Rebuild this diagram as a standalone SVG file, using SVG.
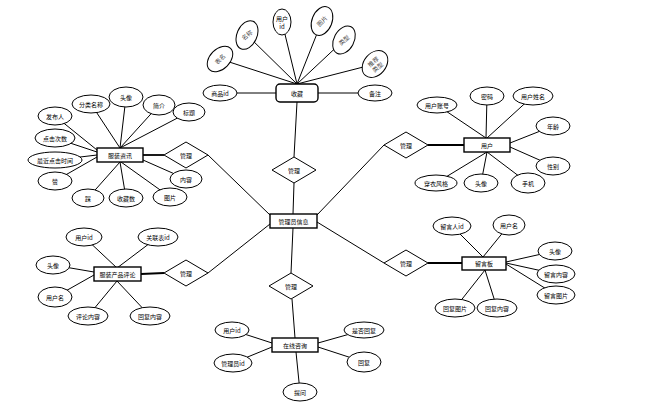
<svg xmlns="http://www.w3.org/2000/svg" width="661" height="409" viewBox="0 0 661 409">
<style>
.e{fill:#fff;stroke:#000;stroke-width:1}
.r{fill:#fff;stroke:#000;stroke-width:1.4}
.d{fill:#fff;stroke:#000;stroke-width:1}
.t{font-family:"Noto Sans CJK SC","Liberation Sans",sans-serif;font-size:6px;text-anchor:middle;dominant-baseline:central;fill:#000}
.g{fill:#444}
#connectors line{stroke:#000;stroke-width:1}
#connectors line.k{stroke-width:1.8}
</style>
<rect width="661" height="409" fill="#fff"/>
<g id="connectors">
<line x1="297" y1="84" x2="220" y2="59"/>
<line x1="297" y1="84" x2="247" y2="35"/>
<line x1="297" y1="84" x2="282" y2="22"/>
<line x1="297" y1="84" x2="322" y2="21"/>
<line x1="297" y1="84" x2="344" y2="40"/>
<line x1="297" y1="84" x2="375" y2="64"/>
<line x1="237" y1="93" x2="276" y2="93"/>
<line x1="318" y1="93" x2="358" y2="93"/>
<line x1="297" y1="102" x2="294" y2="157"/>
<line x1="294" y1="183" x2="293" y2="214"/>
<line x1="293" y1="228" x2="291" y2="273"/>
<line x1="292" y1="299" x2="295" y2="338"/>
<line x1="270" y1="215" x2="208" y2="155"/>
<line x1="270" y1="224" x2="208" y2="273"/>
<line x1="317" y1="215" x2="384" y2="145"/>
<line x1="317" y1="222" x2="384" y2="263"/>
<line class="k" x1="143" y1="155" x2="164" y2="155"/>
<line class="k" x1="428" y1="145" x2="464" y2="145"/>
<line class="k" x1="428" y1="263" x2="462" y2="263"/>
<line class="k" x1="141" y1="274" x2="164" y2="273"/>
<line x1="55" y1="116" x2="97" y2="150"/>
<line x1="55" y1="138" x2="97" y2="152"/>
<line x1="55" y1="160" x2="97" y2="155"/>
<line x1="55" y1="181" x2="97" y2="157"/>
<line x1="88" y1="198" x2="120" y2="162"/>
<line x1="126" y1="198" x2="120" y2="162"/>
<line x1="170" y1="197" x2="121" y2="162"/>
<line x1="186" y1="179" x2="143" y2="160"/>
<line x1="91" y1="104" x2="120" y2="148"/>
<line x1="126" y1="97" x2="120" y2="148"/>
<line x1="159" y1="105" x2="120" y2="148"/>
<line x1="189" y1="112" x2="120" y2="148"/>
<line x1="437" y1="105" x2="486" y2="138"/>
<line x1="487" y1="96" x2="486" y2="138"/>
<line x1="533" y1="96" x2="487" y2="138"/>
<line x1="553" y1="126" x2="510" y2="143"/>
<line x1="553" y1="166" x2="510" y2="147"/>
<line x1="528" y1="183" x2="487" y2="152"/>
<line x1="481" y1="183" x2="487" y2="152"/>
<line x1="436" y1="183" x2="487" y2="152"/>
<line x1="452" y1="226" x2="483" y2="257"/>
<line x1="509" y1="225" x2="483" y2="257"/>
<line x1="555" y1="251" x2="506" y2="262"/>
<line x1="556" y1="274" x2="506" y2="263"/>
<line x1="556" y1="295" x2="506" y2="264"/>
<line x1="455" y1="308" x2="485" y2="270"/>
<line x1="497" y1="308" x2="485" y2="270"/>
<line x1="84" y1="237" x2="117" y2="268"/>
<line x1="158" y1="237" x2="117" y2="268"/>
<line x1="53" y1="265" x2="94" y2="272"/>
<line x1="55" y1="297" x2="94" y2="275"/>
<line x1="88" y1="316" x2="117" y2="281"/>
<line x1="150" y1="316" x2="117" y2="281"/>
<line x1="232" y1="330" x2="272" y2="343"/>
<line x1="233" y1="363" x2="272" y2="347"/>
<line x1="364" y1="330" x2="318" y2="343"/>
<line x1="364" y1="362" x2="318" y2="347"/>
<line x1="300" y1="392" x2="296" y2="352"/>
</g>

<!-- 收藏 -->
<g id="shoucang"><rect class="r" x="276" y="84" width="42" height="18" rx="4"/><text class="t" x="297" y="93">收藏</text></g>
<g id="sc-shangpinid"><ellipse class="e" cx="220" cy="93" rx="17" ry="8"/><text class="t" x="220" y="93">商品id</text></g>
<g id="sc-beizhu"><ellipse class="e" cx="375" cy="93" rx="17" ry="8"/><text class="t" x="375" y="93">备注</text></g>
<g id="sc-biaoming" transform="translate(220,59)"><ellipse class="e" rx="15" ry="10" transform="rotate(-45)"/><text class="t g" transform="rotate(-45)">表名</text></g>
<g id="sc-mingcheng" transform="translate(247,35)"><ellipse class="e" rx="15" ry="10" transform="rotate(-66)"/><text class="t g" transform="rotate(-40)">名称</text></g>
<g id="sc-yonghuid"><ellipse class="e" cx="282" cy="22" rx="9" ry="13"/><text class="t" x="282" y="18">用户</text><text class="t" x="282" y="26">id</text></g>
<g id="sc-tupian" transform="translate(322,21)"><ellipse class="e" rx="15" ry="10" transform="rotate(-68)"/><text class="t g" transform="rotate(-45)">图片</text></g>
<g id="sc-leixing" transform="translate(344,40)"><ellipse class="e" rx="15" ry="10" transform="rotate(-62)"/><text class="t g" transform="rotate(-40)">类型</text></g>
<g id="sc-tuijian" transform="translate(375,64)"><ellipse class="e" rx="15" ry="11" transform="rotate(-50)"/><text class="t g" transform="rotate(-40)"><tspan x="0" y="-3.5">推荐</tspan><tspan x="0" y="3.5">类型</tspan></text></g>

<!-- diamonds -->
<g id="guanli-1"><polygon class="d" points="294,157 316,170 294,183 272,170"/><text class="t" x="294" y="170">管理</text></g>
<g id="guanli-2"><polygon class="d" points="291,273 313,286 291,299 269,286"/><text class="t" x="291" y="286">管理</text></g>
<g id="guanli-3"><polygon class="d" points="186,142 208,155 186,168 164,155"/><text class="t" x="186" y="155">管理</text></g>
<g id="guanli-4"><polygon class="d" points="406,132 428,145 406,158 384,145"/><text class="t" x="406" y="145">管理</text></g>
<g id="guanli-5"><polygon class="d" points="406,250 428,263 406,276 384,263"/><text class="t" x="406" y="263">管理</text></g>
<g id="guanli-6"><polygon class="d" points="186,260 208,273 186,286 164,273"/><text class="t" x="186" y="273">管理</text></g>

<!-- 管理员信息 -->
<g id="guanliyuan"><rect class="r" x="270" y="214" width="47" height="14"/><text class="t" x="293.5" y="221">管理员信息</text></g>

<!-- 服装资讯 -->
<g id="fuzhuangzixun"><rect class="r" x="97" y="148" width="46" height="14"/><text class="t" x="120" y="155">服装资讯</text></g>
<g id="zx-fabuRen"><ellipse class="e" cx="55" cy="116" rx="17" ry="9"/><text class="t" x="55" y="116">发布人</text></g>
<g id="zx-dianji"><ellipse class="e" cx="55" cy="138" rx="20" ry="9"/><text class="t" x="55" y="138">点击次数</text></g>
<g id="zx-zuijin"><ellipse class="e" cx="55" cy="160" rx="27" ry="8"/><text class="t" x="55" y="160">最近点击时间</text></g>
<g id="zx-zan"><ellipse class="e" cx="55" cy="181" rx="17" ry="9"/><text class="t" x="55" y="181">赞</text></g>
<g id="zx-cai"><ellipse class="e" cx="88" cy="198" rx="16" ry="9"/><text class="t" x="88" y="198">踩</text></g>
<g id="zx-shoucangshu"><ellipse class="e" cx="126" cy="198" rx="17" ry="9"/><text class="t" x="126" y="198">收藏数</text></g>
<g id="zx-tupian"><ellipse class="e" cx="170" cy="197" rx="17" ry="9"/><text class="t" x="170" y="197">图片</text></g>
<g id="zx-neirong"><ellipse class="e" cx="186" cy="179" rx="16" ry="9"/><text class="t" x="186" y="179">内容</text></g>
<g id="zx-fenlei"><ellipse class="e" cx="91" cy="104" rx="19" ry="9"/><text class="t" x="91" y="104">分类名称</text></g>
<g id="zx-touxiang"><ellipse class="e" cx="126" cy="97" rx="17" ry="10"/><text class="t" x="126" y="97">头像</text></g>
<g id="zx-jianjie"><ellipse class="e" cx="159" cy="105" rx="16" ry="10"/><text class="t" x="159" y="105">简介</text></g>
<g id="zx-biaoti"><ellipse class="e" cx="189" cy="112" rx="16" ry="9"/><text class="t" x="189" y="112">标题</text></g>

<!-- 用户 -->
<g id="yonghu"><rect class="r" x="464" y="138" width="46" height="14"/><text class="t" x="487" y="145">用户</text></g>
<g id="yh-zhanghao"><ellipse class="e" cx="437" cy="105" rx="20" ry="8"/><text class="t" x="437" y="105">用户账号</text></g>
<g id="yh-mima"><ellipse class="e" cx="487" cy="96" rx="17" ry="9"/><text class="t" x="487" y="96">密码</text></g>
<g id="yh-xingming"><ellipse class="e" cx="533" cy="96" rx="20" ry="9"/><text class="t" x="533" y="96">用户姓名</text></g>
<g id="yh-nianling"><ellipse class="e" cx="553" cy="126" rx="17" ry="9"/><text class="t" x="553" y="126">年龄</text></g>
<g id="yh-xingbie"><ellipse class="e" cx="553" cy="166" rx="17" ry="9"/><text class="t" x="553" y="166">性别</text></g>
<g id="yh-shouji"><ellipse class="e" cx="528" cy="183" rx="17" ry="10"/><text class="t" x="528" y="183">手机</text></g>
<g id="yh-touxiang"><ellipse class="e" cx="481" cy="183" rx="17" ry="9"/><text class="t" x="481" y="183">头像</text></g>
<g id="yh-chuanyi"><ellipse class="e" cx="436" cy="183" rx="21" ry="8"/><text class="t" x="436" y="183">穿衣风格</text></g>

<!-- 留言板 -->
<g id="liuyanban"><rect class="r" x="462" y="257" width="44" height="13"/><text class="t" x="484" y="263.5">留言板</text></g>
<g id="ly-liuyanrenid"><ellipse class="e" cx="452" cy="226" rx="19" ry="9"/><text class="t" x="452" y="226">留言人id</text></g>
<g id="ly-yonghuming"><ellipse class="e" cx="509" cy="225" rx="16" ry="10"/><text class="t" x="509" y="225">用户名</text></g>
<g id="ly-touxiang"><ellipse class="e" cx="555" cy="251" rx="17" ry="9"/><text class="t" x="555" y="251">头像</text></g>
<g id="ly-neirong"><ellipse class="e" cx="556" cy="274" rx="19" ry="9"/><text class="t" x="556" y="274">留言内容</text></g>
<g id="ly-tupian"><ellipse class="e" cx="556" cy="295" rx="19" ry="9"/><text class="t" x="556" y="295">留言图片</text></g>
<g id="ly-huifutupian"><ellipse class="e" cx="455" cy="308" rx="20" ry="9"/><text class="t" x="455" y="308">回复图片</text></g>
<g id="ly-huifuneirong"><ellipse class="e" cx="497" cy="308" rx="20" ry="9"/><text class="t" x="497" y="308">回复内容</text></g>

<!-- 服装产品评论 -->
<g id="pinglun"><rect class="r" x="94" y="267" width="47" height="14"/><text class="t" x="117.5" y="274">服装产品评论</text></g>
<g id="pl-yonghuid"><ellipse class="e" cx="84" cy="237" rx="18" ry="9"/><text class="t" x="84" y="237">用户id</text></g>
<g id="pl-guanlianbiaoid"><ellipse class="e" cx="158" cy="237" rx="20" ry="9"/><text class="t" x="158" y="237">关联表id</text></g>
<g id="pl-touxiang"><ellipse class="e" cx="53" cy="265" rx="17" ry="9"/><text class="t" x="53" y="265">头像</text></g>
<g id="pl-yonghuming"><ellipse class="e" cx="55" cy="297" rx="17" ry="10"/><text class="t" x="55" y="297">用户名</text></g>
<g id="pl-pinglunneirong"><ellipse class="e" cx="88" cy="316" rx="20" ry="9"/><text class="t" x="88" y="316">评论内容</text></g>
<g id="pl-huifuneirong"><ellipse class="e" cx="150" cy="316" rx="20" ry="9"/><text class="t" x="150" y="316">回复内容</text></g>

<!-- 在线咨询 -->
<g id="zaixianzixun"><rect class="r" x="272" y="338" width="46" height="14"/><text class="t" x="295" y="345">在线咨询</text></g>
<g id="zx2-yonghuid"><ellipse class="e" cx="232" cy="330" rx="17" ry="8"/><text class="t" x="232" y="330">用户id</text></g>
<g id="zx2-guanliyuanid"><ellipse class="e" cx="233" cy="363" rx="19" ry="9"/><text class="t" x="233" y="363">管理员id</text></g>
<g id="zx2-shifouhuifu"><ellipse class="e" cx="364" cy="330" rx="20" ry="8"/><text class="t" x="364" y="330">是否回复</text></g>
<g id="zx2-huifu"><ellipse class="e" cx="364" cy="362" rx="17" ry="10"/><text class="t" x="364" y="362">回复</text></g>
<g id="zx2-tiwen"><ellipse class="e" cx="300" cy="392" rx="17" ry="9"/><text class="t" x="300" y="392">提问</text></g>
</svg>
